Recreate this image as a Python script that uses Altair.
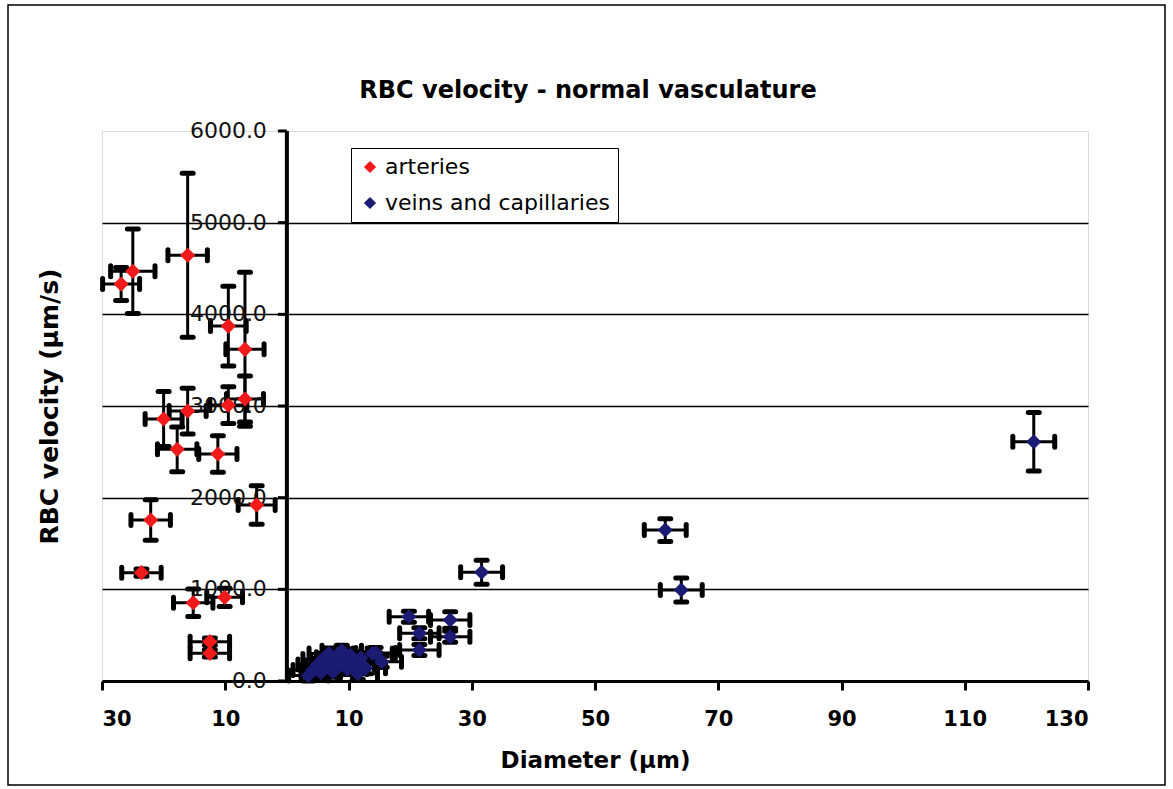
import altair as alt
import pandas as pd

# ---- data ----
art_d = [-26.9, -25.0, -16.1, -9.5, -6.8, -6.8, -9.5, -16.1, -20.0, -17.8, -11.2, -4.9, -22.1, -23.6, -15.2, -10.1, -12.5, -12.5]
art_v = [4330, 4470, 4645, 3872, 3618, 3076, 3010, 2945, 2858, 2527, 2476, 1920, 1756, 1182, 854, 913, 429, 302]
art_xerr = [3.0, 3.6, 3.2, 2.9, 3.1, 3.0, 3.0, 3.0, 3.0, 3.2, 3.1, 3.0, 3.2, 3.2, 3.2, 2.9, 3.2, 3.2]
art_yerr = [180, 460, 895, 435, 840, 250, 200, 250, 300, 245, 200, 210, 220, 40, 150, 100, 40, 40]

vein_d = [3.5, 4.2, 5.0, 5.5, 5.8, 6.3, 6.8, 7.2, 7.5, 8.0, 8.4, 8.9, 9.4, 9.8, 10.3, 11.0, 11.5, 12.0, 12.8, 13.9,
          14.4, 15.4, 19.8, 26.5, 26.5, 21.5, 21.5, 31.6, 61.4, 64.0, 121.2]
vein_v = [60, 120, 180, 90, 240, 150, 300, 200, 100, 260, 160, 330, 220, 130, 280, 180, 80, 250, 140, 300,
          305, 210, 701, 665, 483, 520, 338, 1186, 1647, 993, 2610]
vein_xerr = [3.2] * 27 + [3.4, 3.4, 3.4, 3.4]
vein_yerr = [60] * 22 + [60, 90, 60, 60, 60, 130, 124, 130, 318]

series_names = ["arteries", "veins and capillaries"]
series_colors = ["#f01a1a", "#1b1b73"]

x_ticks = [-30, -10, 10, 30, 50, 70, 90, 110, 130]
y_ticks = [0, 1000, 2000, 3000, 4000, 5000, 6000]
y_tick_labels = [f"{v:.1f}" for v in y_ticks]

chart_title = "RBC velocity - normal vasculature"

# ---- tables ----
df = pd.concat([
    pd.DataFrame({"d": art_d, "v": art_v, "xe": art_xerr, "ye": art_yerr, "series": series_names[0]}),
    pd.DataFrame({"d": vein_d, "v": vein_v, "xe": vein_xerr, "ye": vein_yerr, "series": series_names[1]}),
], ignore_index=True)
df["xlo"] = df["d"] - df["xe"]
df["xhi"] = df["d"] + df["xe"]
df["ylo"] = df["v"] - df["ye"]
df["yhi"] = df["v"] + df["ye"]

ylab = pd.DataFrame({"v": y_ticks, "lab": y_tick_labels})
one = pd.DataFrame({"a": [0]})

BOLD = "DejaVu Sans"
xs = alt.Scale(domain=[-30, 130], nice=False, zero=False)
ys = alt.Scale(domain=[0, 6000], nice=False, zero=False)

base = alt.Chart(df)

xaxis = alt.Axis(values=x_ticks, labelExpr="abs(datum.value)", title="Diameter (µm)",
                 labelFont=BOLD, labelFontSize=21, labelFontWeight="bold", labelColor="black",
                 labelPadding=18, tickSize=9, tickWidth=3, tickColor="black",
                 domainColor="black", domainWidth=3, grid=False,
                 titleFont=BOLD, titleFontSize=23, titleFontWeight="bold", titleColor="black",
                 titlePadding=20)
yaxis = alt.Axis(values=[1000, 2000, 3000, 4000, 5000], labels=False, ticks=False, domain=False,
                 grid=True, gridColor="black", gridWidth=1.5, gridOpacity=1,
                 title="RBC velocity (µm/s)", titleFont=BOLD, titleFontSize=25,
                 titleFontWeight="bold", titleColor="black", titlePadding=40)

vbars = base.mark_rule(color="black", strokeWidth=3).encode(
    x=alt.X("d:Q", scale=xs, axis=xaxis),
    y=alt.Y("ylo:Q", scale=ys, axis=yaxis),
    y2="yhi:Q",
)
hbars = base.mark_rule(color="black", strokeWidth=3).encode(
    x="xlo:Q", x2="xhi:Q", y="v:Q")

cap_style = dict(filled=False, stroke="black", strokeWidth=5, strokeCap="round", size=121, opacity=1)
cap_top = base.mark_point(shape="M-1,0L1,0", **cap_style).encode(x="d:Q", y="yhi:Q")
cap_bot = base.mark_point(shape="M-1,0L1,0", **cap_style).encode(x="d:Q", y="ylo:Q")
cap_l = base.mark_point(shape="M0,-1L0,1", **cap_style).encode(x="xlo:Q", y="v:Q")
cap_r = base.mark_point(shape="M0,-1L0,1", **cap_style).encode(x="xhi:Q", y="v:Q")

markers = base.mark_point(shape="diamond", filled=True, size=230, opacity=1, strokeWidth=0).encode(
    x="d:Q", y="v:Q",
    color=alt.Color("series:N", scale=alt.Scale(domain=series_names, range=series_colors),
                    legend=alt.Legend(orient="none", legendX=249, legendY=17, title=None,
                                      labelFont="DejaVu Sans", labelFontSize=22, labelColor="black",
                                      symbolType="diamond", symbolSize=150, symbolStrokeWidth=0,
                                      strokeColor="black", fillColor="white", padding=8,
                                      rowPadding=14, labelOffset=4, labelLimit=400)),
)

yline = alt.Chart(one).mark_rule(color="black", strokeWidth=4).encode(
    x=alt.datum(0), y=alt.datum(0), y2=alt.datum(6000))
yticks = alt.Chart(ylab).mark_point(shape="M-2,0L0,0", filled=False, stroke="black",
                                     strokeWidth=3, size=81, opacity=1).encode(
    x=alt.datum(0), y="v:Q")
ylabels = alt.Chart(ylab).mark_text(align="right", baseline="middle", dx=-20,
                                    font="DejaVu Sans", fontSize=22, color="#111").encode(
    x=alt.datum(0), y="v:Q", text="lab:N")

title_mark = alt.Chart(one).mark_text(text=chart_title, font=BOLD, fontSize=24, fontWeight="bold",
                                      color="black", align="center", baseline="alphabetic").encode(
    x=alt.value(486), y=alt.value(-33))

frame = alt.Chart(one).mark_rect(fill=None, stroke="black", strokeWidth=1.5).encode(
    x=alt.value(-94), x2=alt.value(1063), y=alt.value(-126), y2=alt.value(654))

chart = alt.layer(frame, vbars, hbars, cap_top, cap_bot, cap_l, cap_r, yline, yticks, ylabels,
                  markers, title_mark).properties(
    width=986, height=550,
    autosize=alt.AutoSizeParams(type="none"),
    padding={"left": 102, "top": 131, "right": 85, "bottom": 108},
).configure_view(stroke="#888888", strokeWidth=1.5).configure(background="white")

chart.save("out.html", embed_options={"renderer": "svg", "actions": False})
